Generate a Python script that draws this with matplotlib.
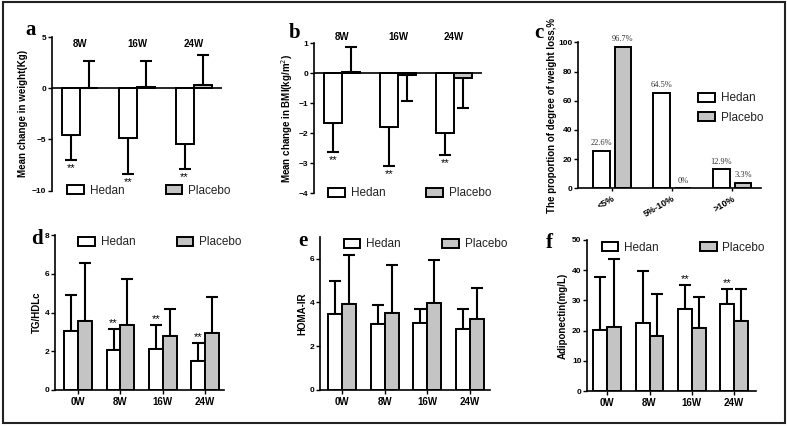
import numpy as np
import matplotlib.pyplot as plt
from matplotlib.patches import Rectangle, Patch

# ---- data ----
weeks_change = ['8W', '16W', '24W']
weeks_all = ['0W', '8W', '16W', '24W']

# a: change in weight (kg)
a_hedan = [-4.55, -4.84, -5.4]
a_hedan_sd = [2.45, 3.56, 2.5]
a_placebo = [0.05, 0.1, 0.33]
a_placebo_sd = [2.63, 2.6, 2.91]

# b: change in BMI
b_hedan = [-1.67, -1.79, -1.99]
b_hedan_sd = [0.96, 1.29, 0.74]
b_placebo = [0.03, -0.05, -0.14]
b_placebo_sd = [0.86, 0.87, 1.03]

# c: proportion of degree of weight loss
loss_cats = ['<5%', '5%-10%', '>10%']
c_hedan = [25.8, 65.5, 13.0]
c_placebo = [96.8, 0.0, 3.6]
c_hedan_lbl = ['22.6%', '64.5%', '12.9%']
c_placebo_lbl = ['96.7%', '0%', '3.3%']

# d: TG/HDLc
d_hedan = [3.03, 2.05, 2.13, 1.48]
d_hedan_sd = [1.87, 1.09, 1.2, 0.93]
d_placebo = [3.56, 3.35, 2.77, 2.94]
d_placebo_sd = [3.02, 2.37, 1.39, 1.87]

# e: HOMA-IR
e_hedan = [3.47, 3.01, 3.04, 2.78]
e_hedan_sd = [1.49, 0.88, 0.68, 0.94]
e_placebo = [3.94, 3.53, 3.97, 3.25]
e_placebo_sd = [2.24, 2.19, 1.95, 1.39]

# f: adiponectin
f_hedan = [20.2, 22.6, 27.0, 28.7]
f_hedan_sd = [17.6, 17.2, 8.1, 5.2]
f_placebo = [21.1, 18.3, 20.7, 23.2]
f_placebo_sd = [22.5, 13.7, 10.3, 10.7]

# significance marks per panel (index of Hedan bars)
a_sig = [0, 1, 2]
b_sig = [0, 1, 2]
d_sig = [1, 2, 3]
f_sig = [2, 3]

GRAY = '#c4c4c4'
plt.rcParams['font.family'] = ['Liberation Sans', 'DejaVu Sans']

W, H = 787, 426
fig = plt.figure(figsize=(W / 100, H / 100), dpi=100)


def add_ax(x0, y0, x1, y1):
    # pixel box -> figure fraction
    return fig.add_axes([x0 / W, 1 - y1 / H, (x1 - x0) / W, (y1 - y0) / H])


def style(ax, bottom=True):
    for s in ['top', 'right']:
        ax.spines[s].set_visible(False)
    ax.spines['left'].set_linewidth(1.2)
    ax.spines['bottom'].set_linewidth(1.2)
    ax.spines['bottom'].set_visible(bottom)
    ax.tick_params(axis='y', length=3, width=1, labelsize=6, pad=1)
    ax.tick_params(axis='x', length=3, width=1, labelsize=7, pad=2)
    for t in ax.get_yticklabels() + ax.get_xticklabels():
        t.set_fontweight('bold')


def one_sided(vals, sds):
    vals = np.array(vals)
    sds = np.array(sds)
    lower = np.where(vals < 0, sds, 0)
    upper = np.where(vals >= 0, sds, 0)
    return [lower, upper]


def grouped(ax, hedan, hsd, placebo, psd, width):
    x = np.arange(len(hedan))
    ax.bar(x - width / 2, hedan, width, color='white', edgecolor='black', lw=1.4, zorder=2)
    ax.bar(x + width / 2, placebo, width, color=GRAY, edgecolor='black', lw=1.4, zorder=2)
    ax.errorbar(x - width / 2, hedan, yerr=one_sided(hedan, hsd), fmt='none',
                ecolor='black', elinewidth=1.5, capsize=4, capthick=1.5, zorder=1)
    ax.errorbar(x + width / 2, placebo, yerr=one_sided(placebo, psd), fmt='none',
                ecolor='black', elinewidth=1.5, capsize=4, capthick=1.5, zorder=1)
    return x


def legend(ax, **kw):
    handles = [Patch(facecolor='white', edgecolor='black', lw=1.4, label='Hedan'),
               Patch(facecolor=GRAY, edgecolor='black', lw=1.4, label='Placebo')]
    leg = ax.legend(handles=handles, frameon=False, fontsize=8.5, handlelength=1.4,
                    handleheight=0.8, handletextpad=0.5, **kw)
    for t in leg.get_texts():
        t.set_color('#222222')


def panel_letter(x, y, s):
    fig.text(x / W, 1 - y / H, s, fontsize=15, fontweight='bold',
             family='Liberation Serif', ha='center', va='center')


def ylab(ax, s, xpix):
    ax.set_ylabel(s, fontsize=7, fontweight='bold')
    ax.yaxis.set_label_coords((xpix - ax.get_position().x0 * W) / (ax.get_position().width * W), 0.5)


# ---- a ----
ax = add_ax(52, 37, 222, 190.7)
w = 0.32
x = grouped(ax, a_hedan, a_hedan_sd, a_placebo, a_placebo_sd, w)
ax.axhline(0, color='black', lw=1.2, zorder=3)
ax.set_xlim(-0.5, 2.5)
ax.set_ylim(-10, 5)
ax.set_yticks([5, 0, -5, -10])
ax.set_xticks([])
for i, lab in enumerate(weeks_change):
    ax.text(x[i], 4.3, lab, ha='center', va='center', fontsize=7, fontweight='bold')
for i in a_sig:
    ax.text(x[i] - w / 2, a_hedan[i] - a_hedan_sd[i] - 0.3, '**', ha='center', va='top', fontsize=8)
style(ax, bottom=False)
ylab(ax, 'Mean change in weight(Kg)', 28)
legend(ax, loc='center', ncol=2, bbox_to_anchor=(0.57, 0.0), columnspacing=3.5)
panel_letter(31, 30, 'a')

# ---- b ----
ax = add_ax(314, 43.3, 482, 193.3)
w = 0.33
x = grouped(ax, b_hedan, b_hedan_sd, b_placebo, b_placebo_sd, w)
ax.axhline(0, color='black', lw=1.2, zorder=3)
ax.set_xlim(-0.5, 2.5)
ax.set_ylim(-4, 1)
ax.set_yticks([1, 0, -1, -2, -3, -4])
ax.set_xticks([])
for i, lab in enumerate(weeks_change):
    ax.text(x[i], 1.22, lab, ha='center', va='center', fontsize=7, fontweight='bold', clip_on=False)
for i in b_sig:
    ax.text(x[i] - w / 2, b_hedan[i] - b_hedan_sd[i] - 0.1, '**', ha='center', va='top', fontsize=8)
style(ax, bottom=False)
ylab(ax, 'Mean change in BMI(kg/m$^2$)', 295)
legend(ax, loc='center', ncol=2, bbox_to_anchor=(0.57, 0.0), columnspacing=3.5)
panel_letter(295, 33, 'b')

# ---- c ----
ax = add_ax(578, 42.3, 761, 188.3)
xc = np.arange(len(loss_cats))
w = 0.28
off = 0.18
ax.bar(xc - off, c_hedan, w, color='white', edgecolor='black', lw=1.4)
ax.bar(xc + off, c_placebo, w, color=GRAY, edgecolor='black', lw=1.4)
for i in range(len(loss_cats)):
    ax.text(xc[i] - off, c_hedan[i] + 2.5, c_hedan_lbl[i], ha='center', va='bottom',
            fontsize=6, family='Liberation Serif', color='#333333')
    ax.text(xc[i] + off, c_placebo[i] + 2.5, c_placebo_lbl[i], ha='center', va='bottom',
            fontsize=6, family='Liberation Serif', color='#333333')
ax.set_xlim(-0.57, 2.48)
ax.set_ylim(0, 100)
ax.set_yticks([0, 20, 40, 60, 80, 100])
ax.set_xticks(xc)
ax.set_xticklabels(loss_cats, rotation=30, ha='right', rotation_mode='anchor')
style(ax)
ax.tick_params(axis='x', labelsize=6.5, length=2)
ylab(ax, 'The proportion of degree of weight loss,%', 557)
legend(ax, loc='center left', ncol=1, bbox_to_anchor=(0.6, 0.55), labelspacing=0.6)
panel_letter(539, 33, 'c')

# ---- d ----
ax = add_ax(55, 235, 224, 390)
w = 0.33
x = grouped(ax, d_hedan, d_hedan_sd, d_placebo, d_placebo_sd, w)
ax.set_xlim(-0.55, 3.45)
ax.set_ylim(0, 8)
ax.set_yticks([0, 2, 4, 6, 8])
ax.set_xticks(x)
ax.set_xticklabels(weeks_all)
for i in d_sig:
    ax.text(x[i] - w / 2, d_hedan[i] + d_hedan_sd[i] + 0.05, '**', ha='center', va='bottom', fontsize=8)
style(ax)
ylab(ax, 'TG/HDLc', 42)
legend(ax, loc='upper center', ncol=2, bbox_to_anchor=(0.62, 1.06), columnspacing=3.5)
panel_letter(37, 239, 'd')

# ---- e ----
ax = add_ax(320, 236.7, 490, 390)
x = grouped(ax, e_hedan, e_hedan_sd, e_placebo, e_placebo_sd, w)
ax.set_xlim(-0.52, 3.47)
ax.set_ylim(0, 7)
ax.set_yticks([0, 2, 4, 6])
ax.set_xticks(x)
ax.set_xticklabels(weeks_all)
style(ax)
ylab(ax, 'HOMA-IR', 307)
legend(ax, loc='upper center', ncol=2, bbox_to_anchor=(0.62, 1.06), columnspacing=3.5)
panel_letter(303, 241, 'e')

# ---- f ----
ax = add_ax(587, 240, 756, 391)
x = grouped(ax, f_hedan, f_hedan_sd, f_placebo, f_placebo_sd, w)
ax.set_xlim(-0.48, 3.52)
ax.set_ylim(0, 50)
ax.set_yticks([0, 10, 20, 30, 40, 50])
ax.set_xticks(x)
ax.set_xticklabels(weeks_all)
for i in f_sig:
    ax.text(x[i] - w / 2, f_hedan[i] + f_hedan_sd[i] + 0.3, '**', ha='center', va='bottom', fontsize=8)
style(ax)
ylab(ax, 'Adiponectin(mg/L)', 568)
legend(ax, loc='upper center', ncol=2, bbox_to_anchor=(0.57, 1.06), columnspacing=3.5)
panel_letter(549, 243, 'f')

# outer frame
fig.patches.append(Rectangle((0.004, 0.008), 0.993, 0.988, transform=fig.transFigure,
                             fill=False, edgecolor='#222222', lw=1.5))

fig.savefig('out.png', dpi=100)
